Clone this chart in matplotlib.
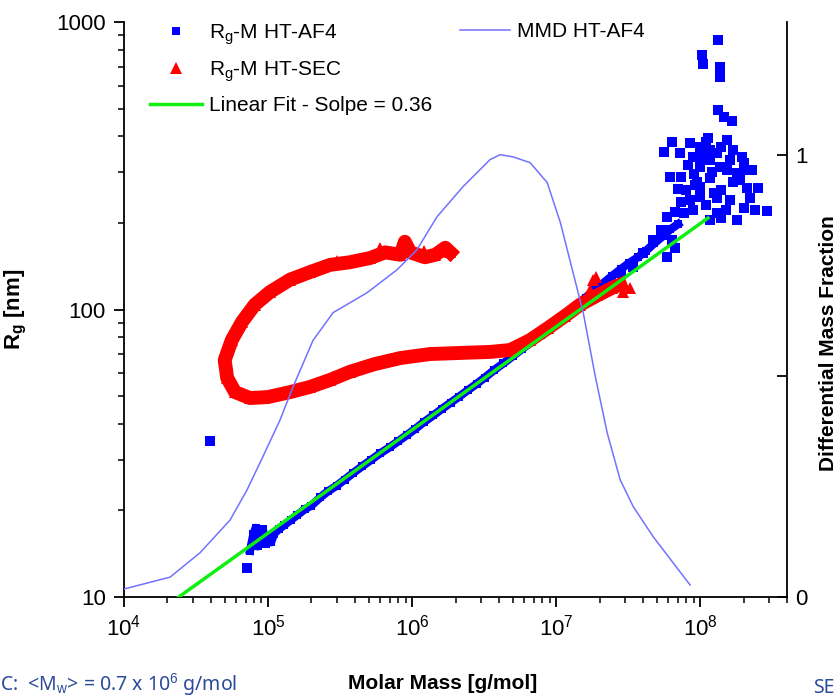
import matplotlib
matplotlib.use("Agg")
import matplotlib.pyplot as plt
from matplotlib.lines import Line2D
from matplotlib.ticker import LogLocator, NullFormatter, FixedLocator

plt.rcParams['font.family'] = ['Liberation Sans', 'DejaVu Sans']
plt.rcParams['mathtext.fontset'] = 'custom'
plt.rcParams['mathtext.rm'] = 'Liberation Sans'
plt.rcParams['mathtext.it'] = 'Liberation Sans:italic'
plt.rcParams['mathtext.bf'] = 'Liberation Sans:bold'

# Rg-M HT-AF4: main band along the fit line
af4_M = [7.5e4, 7.9e4, 8.2e4, 8.5e4, 8.8e4, 9.2e4, 9.6e4, 1.0e5, 1.05e5, 1.1e5,
         1.2e5, 1.3e5, 1.45e5, 1.6e5, 1.8e5, 2.0e5, 2.3e5, 2.6e5, 3.0e5, 3.4e5,
         3.9e5, 4.5e5, 5.2e5, 6.0e5, 7.0e5, 8.0e5, 9.2e5, 1.05e6, 1.2e6, 1.4e6,
         1.6e6, 1.85e6, 2.1e6, 2.45e6, 2.8e6, 3.2e6, 3.7e6, 4.3e6, 5.0e6, 5.8e6,
         6.7e6, 7.8e6, 9.0e6, 1.05e7, 1.2e7, 1.4e7, 1.6e7, 1.85e7, 2.1e7, 2.45e7,
         2.8e7, 3.2e7, 3.7e7, 4.2e7, 4.8e7, 5.5e7, 6.2e7, 7.0e7]
af4_Rg = [14.5, 16.5, 17.4, 15.0, 16.8, 17.2, 15.3, 16.3, 15.5, 16.6,
          17.3, 17.8, 18.6, 19.3, 20.2, 20.8, 22.2, 23.3, 24.4, 25.6,
          27.0, 28.5, 30.0, 31.6, 33.2, 34.8, 36.6, 38.4, 40.5, 42.8,
          45.0, 47.4, 49.6, 52.5, 55.1, 58.0, 61.5, 65.0, 68.8, 72.9,
          77.0, 81.8, 86.8, 92.5, 98.0, 104, 110, 117, 123, 131,
          138, 145, 152, 160, 170, 180, 190, 198]

# Rg-M HT-AF4: scattered points at high molar mass and outliers
cloud_M = [1.33e8, 1.03e8, 1.05e8, 1.38e8, 1.38e8, 1.33e8, 1.47e8, 1.65e8, 6.4e7, 5.6e7,
           7.26e7, 8.5e7, 1.0e8, 1.14e8, 1.53e8, 1.7e8, 1.95e8, 8.2e7, 1.0e8, 6.2e7,
           7.3e7, 1.53e8, 2.0e8, 2.3e8, 9.5e7, 1.17e8, 1.7e8, 2.1e8, 2.5e8, 7.9e7,
           1.0e8, 1.3e8, 1.6e8, 2.0e8, 2.4e8, 2.9e8, 7.3e7, 6.7e7, 8.9e7, 1.17e8,
           1.4e8, 1.8e8, 1.5e8, 1.1e8, 1.3e8, 8.5e7, 1.0e8, 1.17e8, 1.3e8, 8.9e7,
           1.38e8, 7.7e7, 5.9e7, 5.3e7, 4.7e7, 4.0e7, 3.4e7, 2.8e7, 6.4e7, 5.9e7,
           6.7e7, 1.17e8, 1.1e8, 1.4e8, 2.0e8, 1.8e8, 1.4e8, 9.0e7, 1.2e8, 1.6e8,
           7.0e7, 1.05e8, 1.25e8, 1.9e8, 2.2e8, 9.2e7, 7.15e4, 3.95e4]
cloud_Rg = [865, 767, 714, 697, 644, 494, 468, 453, 383, 353,
            350, 379, 367, 395, 389, 359, 339, 318, 313, 289,
            289, 306, 306, 306, 278, 286, 278, 265, 265, 261,
            246, 244, 240, 225, 222, 220, 237, 218, 222, 205,
            208, 205, 222, 231, 217, 240, 267, 331, 350, 339,
            313, 217, 210, 189, 175, 157, 141, 134, 175, 152,
            164, 359, 383, 367, 324, 299, 261, 295, 300, 330,
            262, 340, 255, 282, 244, 270, 12.6, 34.9]

# Rg-M HT-SEC (loop, upper branch first)
sec_M = [1.84e6, 1.7e6, 1.45e6, 1.23e6, 9.7e5, 8.9e5, 8.3e5, 6.5e5, 5.1e5, 3.7e5,
         2.7e5, 1.96e5, 1.42e5, 1.03e5, 8.1e4, 6.6e4, 5.6e4, 5.0e4, 5.2e4, 5.9e4,
         7.5e4, 1.0e5, 1.42e5, 1.96e5, 2.7e5, 3.7e5, 5.5e5, 8.3e5, 1.33e6, 2.15e6,
         3.48e6, 4.8e6, 6.6e6, 8.8e6, 1.15e7, 1.47e7, 1.93e7, 2.45e7, 2.78e7]
sec_Rg = [158, 164, 155, 152, 158, 172, 155, 158, 151, 146,
          143, 135, 127, 115, 104, 90.6, 78.3, 66.7, 57.8, 51.6,
          49.2, 49.6, 51.6, 53.8, 56.9, 60.7, 64.6, 67.8, 70.0, 70.6,
          71.2, 72.3, 78.3, 86.3, 94.9, 104, 112, 119, 122]
sec_extra_M = [1.81e7, 1.9e7, 1.72e7, 3.27e7, 2.9e7, 1.2e6, 6.0e5, 3.0e5]
sec_extra_Rg = [127, 130, 117, 119, 115, 160, 163, 148]

# linear fit end points
fit_M = [2.4e4, 1.13e8]
fit_Rg = [10, 208]

# MMD HT-AF4 (right axis)
mmd_M = [1.0e4, 2.09e4, 3.37e4, 5.45e4, 7.14e4, 9.2e4, 1.21e5, 1.49e5, 2.05e5, 2.83e5,
         4.87e5, 7.87e5, 1.08e6, 1.49e6, 2.26e6, 3.48e6, 4.08e6, 5.03e6, 6.59e6, 8.66e6,
         1.07e7, 1.31e7, 1.54e7, 1.87e7, 2.26e7, 2.78e7, 3.43e7, 4.72e7, 6.49e7, 8.51e7]
mmd_frac = [0.018, 0.045, 0.10, 0.174, 0.242, 0.317, 0.40, 0.475, 0.58, 0.643,
            0.688, 0.74, 0.785, 0.86, 0.928, 0.989, 1.0, 0.995, 0.982, 0.937,
            0.846, 0.733, 0.643, 0.498, 0.371, 0.265, 0.204, 0.136, 0.077, 0.027]

fig = plt.figure(figsize=(8.37, 7.0), dpi=100)
ax = fig.add_axes([124/837, 103/700, 663/837, 575/700])
ax2 = ax.twinx()
ax.set_zorder(ax2.get_zorder() + 1)
ax.patch.set_visible(False)

blue = '#0000ff'
ax.plot(af4_M, af4_Rg, color=blue, marker='s', ms=6, mew=0, lw=6, zorder=2)
ax.plot(cloud_M, cloud_Rg, color=blue, marker='s', ms=6.5, mew=0, ls='none', zorder=2)
ax.plot(sec_M, sec_Rg, color='#ff0000', marker='^', ms=9, mew=0, lw=10, zorder=3)
ax.plot(sec_extra_M, sec_extra_Rg, color='#ff0000', marker='^', ms=8, mew=0, ls='none', zorder=3)
ax.plot(fit_M, fit_Rg, color='#11ee11', lw=2.5, zorder=4)
ax.plot(mmd_M, mmd_frac, color='#7272ff', lw=1.1, zorder=5, transform=ax2.transData)

ax.set_xscale('log')
ax.set_yscale('log')
ax.set_xlim(1e4, 4.0e8)
ax.set_ylim(10, 1000)
ax2.set_ylim(0, 1.30)

ax.set_yticks([10, 100, 1000], labels=['10', '100', '1000'])
ax.xaxis.set_major_locator(LogLocator(base=10, numticks=10))
ax.xaxis.set_minor_locator(LogLocator(base=10, subs=range(2, 10), numticks=20))
ax.xaxis.set_minor_formatter(NullFormatter())
ax.yaxis.set_minor_locator(LogLocator(base=10, subs=range(2, 10), numticks=20))
ax.yaxis.set_minor_formatter(NullFormatter())
ax2.set_yticks([0, 1], labels=['0', '1'])
ax2.yaxis.set_minor_locator(FixedLocator([0.5]))

for a in (ax, ax2):
    a.spines['top'].set_visible(False)
    for s in a.spines.values():
        s.set_linewidth(1.3)
ax.spines['right'].set_visible(False)
ax2.spines['left'].set_visible(False)
ax2.spines['bottom'].set_visible(False)

ax.tick_params(which='major', direction='out', length=7, width=1.3, labelsize=16, pad=6)
ax.tick_params(which='minor', direction='out', length=4, width=1.1)
ax2.tick_params(which='major', direction='in', length=7, width=1.3, labelsize=16, pad=6)
ax2.tick_params(which='minor', direction='in', length=7, width=1.3)

ax.set_xlabel('Molar Mass [g/mol]', fontsize=15, fontweight='bold', labelpad=24)
ax.xaxis.label.set_x(0.481)
ax.set_ylabel('R$_\\mathbf{g}$ [nm]', fontsize=16, fontweight='bold', labelpad=20)
fig.text(829/837, 0.51, 'Differential Mass Fraction', rotation=90, fontsize=15,
         fontweight='bold', ha='center', va='center')

h1 = [Line2D([], [], color=blue, marker='s', ms=6, mew=0, ls='none'),
      Line2D([], [], color='#ff0000', marker='^', ms=8, mew=0, ls='none'),
      Line2D([], [], color='#11ee11', lw=2.5)]
leg1 = ax.legend(h1, ['R$_\\mathrm{g}$-M HT-AF4', 'R$_\\mathrm{g}$-M HT-SEC',
                      'Linear Fit - Solpe = 0.36'],
                 loc='upper left', bbox_to_anchor=(0.039, 1.0), frameon=False,
                 fontsize=15, handlelength=2.5, handletextpad=0.35, labelspacing=0.6,
                 borderpad=0, borderaxespad=0)
ax.add_artist(leg1)
h2 = [Line2D([], [], color='#7272ff', lw=1.1)]
ax.legend(h2, ['MMD HT-AF4'], loc='upper left', bbox_to_anchor=(0.507, 1.0),
          frameon=False, fontsize=15, handlelength=2.4, handletextpad=0.35,
          borderpad=0, borderaxespad=0)

fig.text(0.0, 0.003, 'C:  <M$_\\mathrm{w}$> = 0.7 x 10$^\\mathrm{6}$ g/mol', color='#2b4a9a',
         fontsize=14, family='Noto Sans', ha='left', va='bottom')
fig.text(0.997, 0.003, 'SE', color='#2b4a9a', fontsize=14, family='Noto Sans',
         ha='right', va='bottom')

fig.savefig('out.png', dpi=100)
